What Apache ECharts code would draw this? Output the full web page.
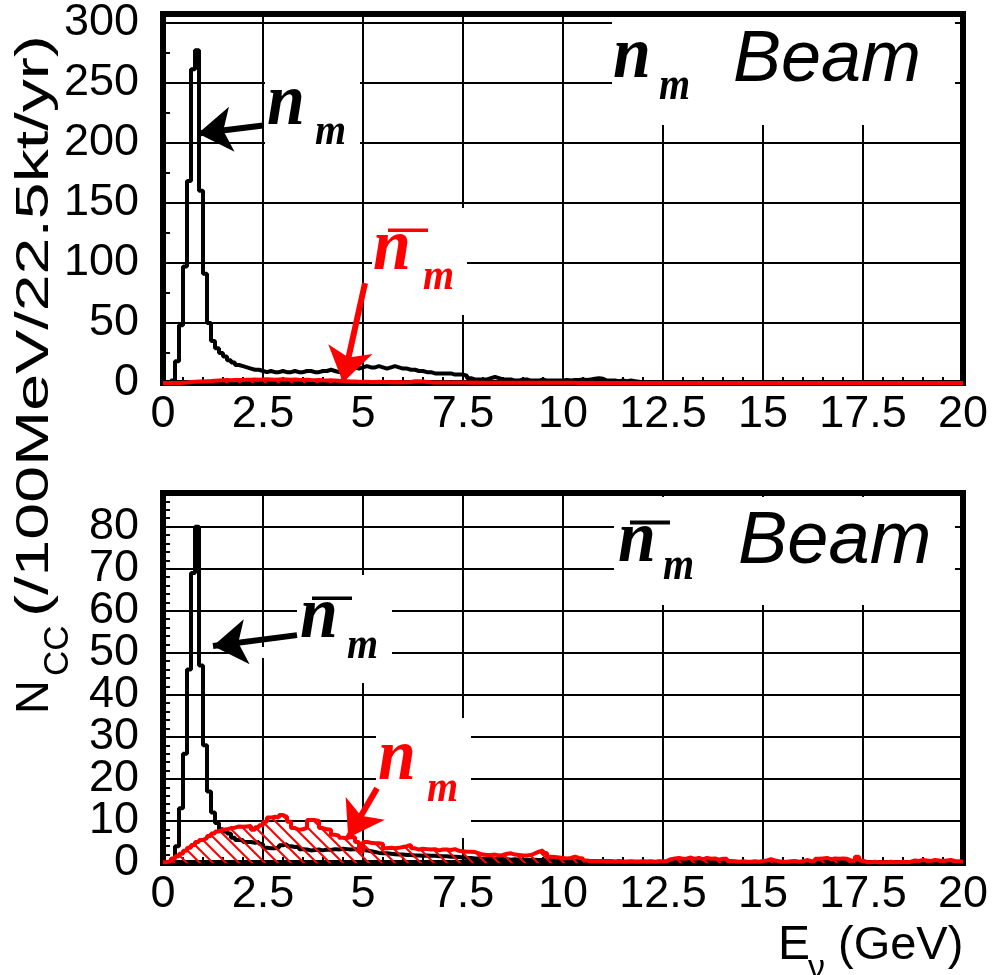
<!DOCTYPE html>
<html><head><meta charset="utf-8">
<script src="https://cdn.jsdelivr.net/npm/echarts@6/dist/echarts.min.js"></script>
<style>html,body{margin:0;padding:0;background:#fff}#c{width:992px;height:975px}</style>
</head><body><div id="c"></div>
<script>
// ---------------- data ----------------
const BIN_WIDTH = 0.1;          // GeV (100 MeV bins)
const X_MAX = 20;
const xTickInterval = 2.5;
const topYMax = 307, topYInterval = 50;
const botYMax = 88,  botYInterval = 10;

// nu_mu beam: nu_mu CC spectrum (black)
const nuBeamNuMu = [
0,0,2,18,48,97,168,261,277,160,
91,50,35,29,25,22,19,17,15,14,
13,12,11,11,10,9,10,9,9,10,
9,9,10,9,9,10,10,9,9,10,
10,11,10,9,10,12,13,13,12,13,
14,13,13,14,13,12,13,14,13,12,
12,11,11,10,10,9,9,8,8,8,
8,8,7,7,7,6,4,3,3,3,
3,4,5,4,3,3,3,2,2,3,
3,2,2,2,3,2,2,2,2,2,
2.5,2,2.5,2.5,3,2.5,3,3.5,4,3.5,
2,2,2,1.5,2,1.5,2,1.5,1,0.5,
0.5,0.4,0.4,0.3,0.4,0.3,0.3,0.4,0.3,0.3,
0.3,0.3,0.2,0.3,0.3,0.2,0.3,0.2,0.2,0.3,
0.2,0.2,0.3,0.2,0.2,0.2,0.2,0.2,0.1,0.2,
0.2,0.1,0.2,0.2,0.1,0.2,0.1,0.1,0.2,0.1,
0.1,0.1,0.1,0.2,0.1,0.1,0.1,0.1,0.1,0.1,
0.1,0.1,0.1,0.1,0.1,0.1,0.1,0.1,0.1,0.1,
0.1,0.1,0.1,0.1,0.1,0.1,0.1,0.1,0.1,0.1,
0.1,0.1,0.1,0.1,0.1,0.1,0.1,0.1,0.1,0.1];

// nu_mu beam: anti-nu_mu CC contamination (red)
const nuBeamNuMuBar = [
0,0,0,0.1,0.3,0.5,0.8,1.0,1.2,1.3,
1.5,1.6,1.8,2.0,2.2,2.4,2.3,2.5,2.6,2.5,
2.7,2.8,3.0,2.7,3.0,3.1,3.0,2.8,3.0,3.1,
3.0,2.8,3.0,2.7,2.6,2.8,2.5,2.3,2.4,2.2,
2.1,2.2,2.0,1.8,1.7,1.5,1.3,1.2,1.1,1.0,
1.0,0.9,0.9,1.0,0.8,0.8,0.7,0.8,0.7,0.7,
0.7,0.9,1.4,1.5,1.3,0.8,0.6,0.5,0.5,0.5,
0.5,0.4,0.5,0.4,0.4,0.4,0.3,0.4,0.3,0.3,
0.3,0.3,0.3,0.3,0.2,0.3,0.2,0.3,0.2,0.2,
0.2,0.2,0.2,0.2,0.2,0.2,0.2,0.2,0.2,0.2,
0.2,0.2,0.2,0.1,0.2,0.1,0.2,0.1,0.1,0.1,
0.1,0.1,0.1,0.1,0.1,0.1,0.1,0.1,0.1,0.1,
0.1,0.1,0.1,0.1,0.1,0.1,0.1,0.1,0.1,0.1,
0.1,0.1,0.1,0.1,0.1,0.1,0.1,0.1,0.1,0.1,
0.1,0.1,0.1,0.1,0.1,0.1,0.1,0.1,0.1,0.1,
0.1,0.1,0.1,0.1,0.1,0.1,0.1,0.1,0.1,0.1,
0.1,0.1,0.1,0.1,0.1,0.1,0.1,0.1,0.1,0.1,
0.1,0.1,0.1,0.1,0.1,0.1,0.1,0.1,0.1,0.1,
0.1,0.1,0.1,0.1,0.1,0.1,0.1,0.1,0.1,0.1,
0.1,0.1,0.1,0.1,0.1,0.1,0.1,0.1,0.1,0.1];

// anti-nu_mu beam: anti-nu_mu CC spectrum (black)
const nubarBeamNuMuBar = [
0,0,1,4,13,26,46,69,80,47,
28,17,12,9.5,8,7.5,7,6,5.5,5.5,
5,5,4.8,5,4.5,3.6,3.5,3.5,3.6,4.2,
4.5,4,3.8,3.9,3.3,3.2,3,3.1,3.2,3,
3.2,3.1,3.3,3.2,3.4,3.3,3.2,3.3,3.2,3.1,
3.0,2.8,2.6,2.4,2.3,2.3,2.2,2.1,2.0,2.0,
1.9,1.9,1.8,1.8,1.7,1.8,1.7,1.7,1.6,1.6,
1.6,1.5,1.5,1.4,1.3,1.2,1.2,1.1,1.1,1.0,
1.0,1.0,0.9,1.0,0.9,0.9,0.8,0.9,0.8,0.8,
0.8,0.7,0.8,0.7,0.7,0.6,0.7,0.6,0.6,0.6,
0.5,0.6,0.5,0.5,0.5,0.4,0.5,0.4,0.4,0.4,
0.4,0.4,0.3,0.4,0.3,0.3,0.3,0.3,0.3,0.3,
0.3,0.3,0.2,0.3,0.2,0.3,0.2,0.2,0.3,0.2,
0.2,0.2,0.2,0.2,0.2,0.2,0.2,0.2,0.2,0.2,
0.2,0.2,0.1,0.2,0.2,0.1,0.2,0.1,0.1,0.2,
0.1,0.1,0.1,0.1,0.1,0.1,0.1,0.1,0.1,0.1,
0.1,0.1,0.1,0.1,0.1,0.1,0.1,0.1,0.1,0.1,
0.1,0.1,0.1,0.1,0.1,0.1,0.1,0.1,0.1,0.1,
0.1,0.1,0.1,0.1,0.1,0.1,0.1,0.1,0.1,0.1,
0.1,0.1,0.1,0.1,0.1,0.1,0.1,0.1,0.1,0.1];

// anti-nu_mu beam: nu_mu CC contamination (red, hatched)
const nubarBeamNuMu = [
0.2,0.5,1.0,1.6,2.2,2.9,3.6,4.3,5.0,5.5,
5.9,6.4,7.0,7.5,7.9,8.0,8.3,8.4,8.7,8.6,
8.7,8.8,7.9,8.5,9.0,9.8,10.8,11.0,10.8,11.4,
11.0,9.8,8.3,7.9,8.0,8.4,10.2,10.2,10.0,8.3,
8.0,7.9,6.7,6.5,6.0,5.9,6.2,6.1,5.0,2.7,
5.0,4.8,4.7,4.7,4.5,3.5,3.6,3.5,3.6,3.8,
4.0,4.3,3.5,3.2,3.4,3.3,3.2,3.3,3.0,3.2,
3.2,3.1,3.3,2.9,2.8,2.7,2.7,2.6,2.3,2.0,
1.9,1.9,2.0,1.8,1.9,2.2,2.3,2.0,1.9,1.8,
1.8,1.9,2.3,2.7,3.0,2.4,1.5,1.4,1.3,1.2,
1.1,1.2,1.5,1.2,1.1,0.6,0.4,0.4,0.5,0.4,
0.3,0.4,0.3,0.4,0.3,0.3,0.4,0.3,0.3,0.4,
0.3,0.4,0.3,0.4,0.4,0.5,0.9,1.1,1.2,1.0,
1.1,1.3,1.0,1.2,0.9,1.2,1.0,1.1,0.8,1.0,
1.0,0.5,0.4,0.3,0.4,0.3,0.3,0.4,0.3,0.5,
0.6,0.9,0.6,0.4,0.3,0.3,0.4,0.5,0.3,0.4,
0.7,0.5,0.4,1.0,1.1,1.2,0.9,1.1,1.0,1.1,
1.0,0.6,0.5,1.5,0.6,0.2,0.2,0.3,0.2,0.2,
0.2,0.3,0.2,0.2,0.3,0.2,0.3,0.6,0.5,0.7,
0.6,0.5,0.7,0.6,0.5,0.6,0.7,0.5,0.4,0.3];

// annotation arrows in data coordinates [tail, tip]
const arrowTopBlack = [[2.5, 214.3], [0.875, 207.6]];
const arrowTopRed   = [[5.05, 83.1], [4.5, 0.5]];
const arrowBotBlack = [[3.35, 54.2], [1.25, 51.6]];
const arrowBotRed   = [[5.35, 17.8], [4.63, 6.0]];

// ---------------- chart ----------------
function steps(vals) {
  const d = vals.map((v, i) => [Math.round(i * BIN_WIDTH * 10) / 10, v]);
  d.push([X_MAX, vals[vals.length - 1]]);
  return d;
}

function hatch() {
  const s = 13;
  const c = document.createElement('canvas');
  c.width = s; c.height = s;
  const g = c.getContext('2d');
  g.strokeStyle = '#ff0000'; g.lineWidth = 2;
  g.beginPath();
  g.moveTo(-2, -2); g.lineTo(s + 2, s + 2);
  g.moveTo(s - 2, -2); g.lineTo(s + 2, 2);
  g.moveTo(-2, s - 2); g.lineTo(2, s + 2);
  g.stroke();
  return { image: c, repeat: 'repeat' };
}
const hatchPattern = hatch();

const SANS = '"Liberation Sans", Arial, Helvetica, sans-serif';
const SERIF = '"Liberation Serif", "Times New Roman", serif';

function xAxisCfg(g) {
  return {
    type: 'value', gridIndex: g, min: 0, max: X_MAX, interval: xTickInterval,
    axisLine: { show: true, lineStyle: { color: '#000', width: 6 } },
    axisTick: { show: true, inside: true, length: 10, lineStyle: { color: '#000', width: 2 } },
    minorTick: { show: true, splitNumber: 5, length: 6, lineStyle: { color: '#000', width: 2 } },
    splitLine: { show: true, lineStyle: { color: '#000', width: 2 } },
    axisLabel: { fontFamily: SANS, fontSize: 45, color: '#000', margin: 9, showMinLabel: true, showMaxLabel: true }
  };
}
function yAxisCfg(g, max, interval, minorSplit, hideZero) {
  return {
    type: 'value', gridIndex: g, min: 0, max: max, interval: interval,
    axisLine: { show: true, lineStyle: { color: '#000', width: 6 } },
    axisTick: { show: true, inside: true, length: 10, lineStyle: { color: '#000', width: 2 } },
    minorTick: { show: true, splitNumber: minorSplit, length: 7, lineStyle: { color: '#000', width: 2 } },
    splitLine: { show: true, lineStyle: { color: '#000', width: 2 } },
    axisLabel: { fontFamily: SANS, fontSize: 45, color: '#000', margin: 24,
      showMaxLabel: false,
      formatter: v => ((v % interval === 0 && !(hideZero && v === 0)) ? String(v) : '') }
  };
}
// extra axis on the lower panel that carries only the "0" label
function zeroAxisCfg(g, max) {
  return {
    type: 'value', gridIndex: g, position: 'left', min: 0, max: max, interval: max,
    axisLine: { show: false }, axisTick: { show: false }, minorTick: { show: false },
    splitLine: { show: false },
    axisLabel: { fontFamily: SANS, fontSize: 45, color: '#000', margin: 24,
      showMinLabel: true, showMaxLabel: false, formatter: v => (v === 0 ? '0' : '') }
  };
}
function arrow(a, color) {
  return {
    silent: true, animation: false, symbol: ['none', 'arrow'], symbolSize: 34,
    lineStyle: { color: color, width: 6, type: 'solid' },
    label: { show: false }, emphasis: { disabled: true },
    data: [[{ coord: a[0] }, { coord: a[1] }]]
  };
}
function histo(x, y, vals, color, z, extra) {
  return Object.assign({
    type: 'line', xAxisIndex: x, yAxisIndex: y, data: steps(vals), step: 'end',
    showSymbol: false, symbol: 'none', animation: false, z: z, silent: true,
    lineStyle: { color: color, width: 4 }
  }, extra || {});
}

// text helper: left / baseline in px
function T(text, left, base, fam, size, fstyle, color, sy) {
  sy = sy || 1;
  return { type: 'text', x: left, y: base - 0.34 * size * sy, scaleY: sy, z: 20,
    style: { text: text, fill: color, font: fstyle + ' ' + size + 'px ' + fam, align: 'left', verticalAlign: 'middle' } };
}
function box(x, y, w, h) {
  return { type: 'rect', z: 1, shape: { x: x, y: y, width: w, height: h }, style: { fill: '#fff' }, silent: true };
}
function bar(x, y, w, h, color) {
  return { type: 'rect', z: 20, shape: { x: x, y: y, width: w, height: h }, style: { fill: color } };
}
function rotT(text, cx, startY, size, sx) {
  return { type: 'text', x: cx, y: startY, rotation: Math.PI / 2, scaleX: sx || 1, z: 20,
    style: { text: text, fill: '#000', font: size + 'px ' + SANS, align: 'left', verticalAlign: 'middle' } };
}

const graphics = [
  // white label backgrounds
  box(265, 60, 95, 100),
  box(612, 17, 343, 108),
  box(372, 208, 95, 107),
  box(297, 575, 95, 108),
  box(236, 647, 61, 11),
  box(614, 497, 341, 108),
  box(376, 718, 95, 120),
  // top panel labels
  T('n', 267, 130, SERIF, 68, 'italic bold', '#000', 1.1),
  T('m', 315, 148, SERIF, 40, 'italic bold', '#000', 1.1),
  T('n', 613, 83, SERIF, 68, 'italic bold', '#000', 1.1),
  T('m', 659, 103, SERIF, 40, 'italic bold', '#000', 1.15),
  T('Beam', 733, 85, SANS, 72, 'italic', '#000', 1),
  T('n', 373, 275, SERIF, 68, 'italic bold', '#ff0000', 1.1),
  T('m', 423, 293, SERIF, 40, 'italic bold', '#ff0000', 1.1),
  bar(388, 228.5, 40, 3.5, '#ff0000'),
  // bottom panel labels
  T('n', 618, 567, SERIF, 68, 'italic bold', '#000', 1.1),
  T('m', 663, 583, SERIF, 40, 'italic bold', '#000', 1.15),
  bar(630, 520.5, 40, 4, '#000'),
  T('Beam', 738, 568, SANS, 74, 'italic', '#000', 1),
  T('n', 300, 643, SERIF, 68, 'italic bold', '#000', 1.1),
  T('m', 347, 662, SERIF, 40, 'italic bold', '#000', 1.1),
  bar(312, 596.5, 40, 3.5, '#000'),
  T('n', 378, 785, SERIF, 68, 'italic bold', '#ff0000', 1.1),
  T('m', 427, 805, SERIF, 40, 'italic bold', '#ff0000', 1.1),
  // axis titles
  rotT('N', 35, 714, 47, 1),
  rotT('CC', 58, 676, 35, 1),
  rotT('(/100MeV/22.5kt/yr)', 35, 617, 47, 1.41),
  T('E', 778, 962, SANS, 48, 'normal', '#000', 1),
  T('\u03bd', 808, 980, SANS, 34, 'normal', '#000', 1),
  T('(GeV)', 838, 962, SANS, 47, 'normal', '#000', 1)
];

const chart = echarts.init(document.getElementById('c'), null, { renderer: 'canvas' });
chart.setOption({
  animation: false,
  backgroundColor: '#fff',
  grid: [
    { left: 163, right: 29, top: 13, height: 370, show: true, borderColor: '#000', borderWidth: 6 },
    { left: 163, right: 29, top: 493, height: 370, show: true, borderColor: '#000', borderWidth: 6 }
  ],
  xAxis: [xAxisCfg(0), xAxisCfg(1)],
  yAxis: [
    yAxisCfg(0, topYMax, topYInterval, 2, false),
    yAxisCfg(1, botYMax, botYInterval, 5, true),
    zeroAxisCfg(1, botYMax)
  ],
  series: [
    histo(0, 0, nuBeamNuMu, '#000', 3, { markLine: arrow(arrowTopBlack, '#000') }),
    histo(0, 0, nuBeamNuMuBar, '#ff0000', 4, { areaStyle: { color: hatchPattern, opacity: 1 },
      markLine: arrow(arrowTopRed, '#ff0000') }),
    histo(1, 1, nubarBeamNuMuBar, '#000', 3, { markLine: arrow(arrowBotBlack, '#000') }),
    histo(1, 1, nubarBeamNuMu, '#ff0000', 4, { areaStyle: { color: hatchPattern, opacity: 1 },
      markLine: arrow(arrowBotRed, '#ff0000') })
  ],
  graphic: graphics
});
</script>
</body></html>
